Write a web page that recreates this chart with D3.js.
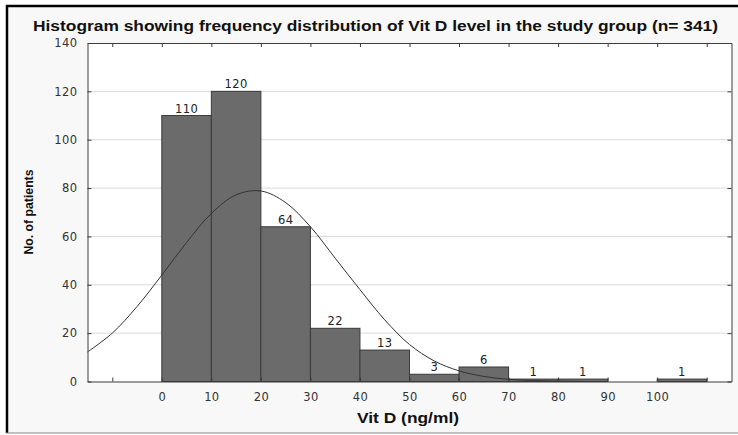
<!DOCTYPE html>
<html>
<head>
<meta charset="utf-8">
<script src="https://cdn.jsdelivr.net/npm/d3@7/dist/d3.min.js"></script>
<style>
  body { margin: 0; background: #fff; }
</style>
</head>
<body>
<div id="chart"></div>
<script>
// histogram bins (Vit D, ng/ml) and patient counts
const binStarts = [0, 10, 20, 30, 40, 50, 60, 70, 80, 90, 100];
const binWidth = 10;
const counts = [110, 120, 64, 22, 13, 3, 6, 1, 1, 0, 1];

// fitted normal curve
const curveX = [-15, -10, -5, 0, 5, 10, 15, 20, 25, 30, 35, 40, 45, 50, 55, 60, 65, 70, 75, 80, 85];
const curveY = [12.2, 20, 31, 44, 57.5, 69.5, 77.2, 78.8, 74, 64, 51, 38, 25.5, 15.3, 8.5, 4.4, 2.1, 0.9, 0.4, 0.15, 0];

const xTicks = [-10, 0, 10, 20, 30, 40, 50, 60, 70, 80, 90, 100, 110];
const xTickLabels = ["", "0", "10", "20", "30", "40", "50", "60", "70", "80", "90", "100", ""];
const yTicks = [0, 20, 40, 60, 80, 100, 120, 140];

const W = 738, H = 435;
const plot = { left: 87.5, right: 731.5, top: 43, bottom: 381.5 };
const tickFont = "'DejaVu Sans', sans-serif";
const labelFont = "'Liberation Sans', Arial, sans-serif";

const svg = d3.select("#chart")
    .append("svg")
    .attr("width", W)
    .attr("height", H);

// outer frame
svg.append("rect")
    .attr("x", 7).attr("y", 6)
    .attr("width", W).attr("height", 427)
    .attr("fill", "#f8f8f8");
svg.append("line").attr("x1", 6).attr("x2", W).attr("y1", 6).attr("y2", 6)
    .attr("stroke", "#000").attr("stroke-width", 2.5);
svg.append("line").attr("x1", 7).attr("x2", 7).attr("y1", 5).attr("y2", 433)
    .attr("stroke", "#000").attr("stroke-width", 2.5);
svg.append("line").attr("x1", 6).attr("x2", W).attr("y1", 433).attr("y2", 433)
    .attr("stroke", "#888").attr("stroke-width", 1.2);

const x = d3.scaleLinear().domain([-15, 115]).range([plot.left, plot.right]);
const y = d3.scaleLinear().domain([0, 140]).range([plot.bottom, plot.top]);

// plot background
svg.append("rect")
    .attr("x", plot.left).attr("y", plot.top)
    .attr("width", plot.right - plot.left).attr("height", plot.bottom - plot.top)
    .attr("fill", "#fff");

// gridlines
svg.append("g")
    .selectAll("line")
    .data(yTicks.slice(1, -1))
    .join("line")
    .attr("x1", plot.left).attr("x2", plot.right)
    .attr("y1", d => y(d)).attr("y2", d => y(d))
    .attr("stroke", "#dadada");

// bars
const bins = binStarts.map((s, i) => ({ x0: s, x1: s + binWidth, n: counts[i] }));
svg.append("g")
    .selectAll("rect")
    .data(bins.filter(d => d.n > 0))
    .join("rect")
    .attr("x", d => x(d.x0))
    .attr("y", d => y(d.n))
    .attr("width", d => x(d.x1) - x(d.x0))
    .attr("height", d => y(0) - y(d.n))
    .attr("fill", "#6b6b6b")
    .attr("stroke", "#3a3a3a")
    .attr("stroke-width", 1);

// normal curve
const line = d3.line()
    .x((d, i) => x(curveX[i]))
    .y(d => y(d))
    .curve(d3.curveCatmullRom);
svg.append("path")
    .datum(curveY)
    .attr("fill", "none")
    .attr("stroke", "#333")
    .attr("stroke-width", 1)
    .attr("d", line);

// bar labels
svg.append("g")
    .selectAll("text")
    .data(bins.filter(d => d.n > 0))
    .join("text")
    .attr("x", d => x((d.x0 + d.x1) / 2))
    .attr("y", d => y(d.n) - 3)
    .attr("text-anchor", "middle")
    .attr("font-family", tickFont)
    .attr("font-size", "11.5px")
    .attr("letter-spacing", "0.4px")
    .attr("fill", "#222")
    .text(d => d.n);

// axes: ticks point inward on all four sides
const fmtX = (d) => xTickLabels[xTicks.indexOf(d)];
const axisStyle = (g) => {
    g.select(".domain").attr("stroke", "#3c3c3c");
    g.selectAll(".tick line").attr("stroke", "#3c3c3c");
    g.selectAll(".tick text").attr("fill", "#333").attr("font-size", "11.5px")
        .attr("letter-spacing", "0.4px")
        .attr("font-family", tickFont);
};

svg.append("g")
    .attr("transform", `translate(0,${plot.bottom})`)
    .call(d3.axisBottom(x).tickValues(xTicks).tickFormat(fmtX).tickSizeInner(-4).tickSizeOuter(0).tickPadding(11))
    .call(axisStyle);
svg.append("g")
    .attr("transform", `translate(0,${plot.top})`)
    .call(d3.axisTop(x).tickValues(xTicks).tickFormat("").tickSizeInner(-4).tickSizeOuter(0))
    .call(axisStyle);
svg.append("g")
    .attr("transform", `translate(${plot.left},0)`)
    .call(d3.axisLeft(y).tickValues(yTicks).tickSizeInner(-4).tickSizeOuter(0).tickPadding(10))
    .call(axisStyle);
svg.append("g")
    .attr("transform", `translate(${plot.right},0)`)
    .call(d3.axisRight(y).tickValues(yTicks).tickFormat("").tickSizeInner(-4).tickSizeOuter(0))
    .call(axisStyle);

// titles
svg.append("text")
    .attr("x", 375.5)
    .attr("y", 31)
    .attr("text-anchor", "middle")
    .attr("font-family", labelFont)
    .attr("font-weight", "bold")
    .attr("font-size", "14px")
    .attr("fill", "#111")
    .attr("textLength", 685)
    .attr("lengthAdjust", "spacingAndGlyphs")
    .text("Histogram showing frequency distribution of Vit D level in the study group (n= 341)");

svg.append("text")
    .attr("x", 408)
    .attr("y", 423)
    .attr("text-anchor", "middle")
    .attr("font-family", labelFont)
    .attr("font-weight", "bold")
    .attr("font-size", "14px")
    .attr("fill", "#111")
    .attr("textLength", 102)
    .attr("lengthAdjust", "spacingAndGlyphs")
    .text("Vit D (ng/ml)");

svg.append("text")
    .attr("transform", "translate(33,212) rotate(-90)")
    .attr("text-anchor", "middle")
    .attr("font-family", "'Liberation Sans Narrow', 'Arial Narrow', 'Liberation Sans', sans-serif")
    .attr("font-weight", "bold")
    .attr("font-size", "12.5px")
    .attr("fill", "#111")
    .attr("textLength", 85)
    .attr("lengthAdjust", "spacingAndGlyphs")
    .text("No. of patients");
</script>
</body>
</html>
